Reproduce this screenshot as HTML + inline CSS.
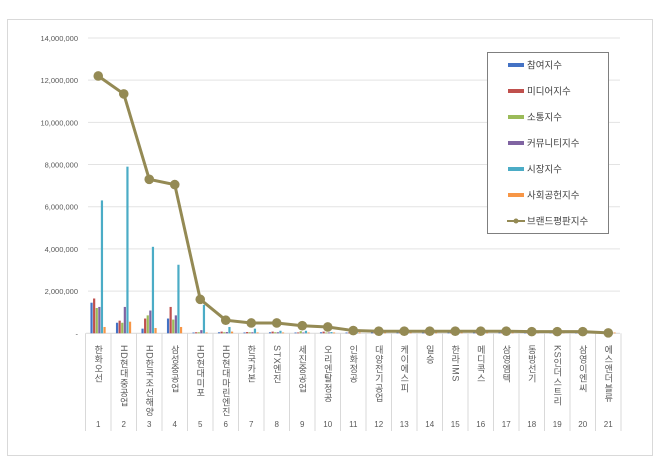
<!DOCTYPE html>
<html><head><meta charset="utf-8">
<style>
body{margin:0;background:#fff;}
svg text{font-family:"Liberation Sans","Noto Sans CJK KR",sans-serif;}
</style></head><body>
<svg id="s" width="660" height="463" xmlns="http://www.w3.org/2000/svg">
<rect x="7.5" y="19.5" width="645" height="436" fill="#fff" stroke="#d9d9d9"/>
<g id="g"></g>
</svg>
<script>
const g=document.getElementById('g');
let h='';
const y0=333.3, ppm=295.3/14;
const Y=v=>y0-v*ppm;
for(let i=0;i<=7;i++){const y=Y(i*2);
 if(i>0)h+=`<line x1="88" x2="620" y1="${y}" y2="${y}" stroke="#e3e3e3"/>`;
 const lab=i==0?'-':(i*2).toString()+',000,000';
 h+=`<text x="78" y="${y+3}" font-size="7.5" fill="#595959" text-anchor="end">${lab}</text>`;}
h+=`<line x1="86" x2="620" y1="${y0}" y2="${y0}" stroke="#d9d9d9"/>`;
const x0=85.5,w=25.5;
for(let i=0;i<=21;i++){const x=x0+w*i;h+=`<line x1="${x}" x2="${x}" y1="${y0}" y2="431" stroke="#d9d9d9"/>`;}
const cols=['#4472c4','#c0504d','#9bbb59','#8064a2','#4bacc6','#f79646'];
const bars=[[1.45,1.65,1.2,1.25,6.3,0.3],[0.5,0.6,0.5,1.25,7.9,0.55],[0.22,0.7,0.85,1.08,4.1,0.25],[0.7,1.25,0.65,0.85,3.25,0.3],[0.03,0.05,0.05,0.15,1.35,0.03],
[0.05,0.08,0.05,0.06,0.3,0.08],[0.04,0.06,0.05,0.05,0.22,0.04],[0.05,0.08,0.05,0.05,0.12,0.04],[0.03,0.04,0.1,0.04,0.12,0.03],[0.05,0.08,0.03,0.04,0.06,0.03]];
const names=['한화오선','HD현대중공업','HD한국조선해양','삼성중공업','HD현대미포','HD현대마린엔진','한국카본','STX엔진','세진중공업','오리엔탈정공','인화정공','대양전기공업','케이에스피','일승','한라IMS','메디콕스','삼영엠텍','동방선기','KS인더스트리','삼영이엔씨','에스앤더블류'];
for(let i=0;i<21;i++){const cx=x0+w*(i+0.5);
 const b=bars[i]||[0.03,0.04,0.03,0.03,0.04,0.02];
 for(let k=0;k<6;k++){const bx=cx-7.8+k*2.6;const hh=Math.max(b[k]*ppm,0.8);
  h+=`<rect x="${bx}" y="${y0-hh}" width="2.2" height="${hh}" fill="${cols[k]}"/>`;}
 h+=`<text x="${cx}" y="345" font-size="9" fill="#595959" style="writing-mode:vertical-rl;text-orientation:mixed;letter-spacing:0.6px">${names[i]}</text>`;
 h+=`<text x="${cx}" y="427" font-size="8" fill="#595959" text-anchor="middle">${i+1}</text>`;}
const line=[12.2,11.35,7.3,7.05,1.61,0.62,0.49,0.49,0.36,0.3,0.13,0.1,0.1,0.1,0.1,0.1,0.1,0.08,0.08,0.08,0.02];
let pts=line.map((v,i)=>`${x0+w*(i+0.5)},${Y(v)}`).join(' ');
h+=`<polyline points="${pts}" fill="none" stroke="#948a54" stroke-width="3"/>`;
line.forEach((v,i)=>h+=`<circle cx="${x0+w*(i+0.5)}" cy="${Y(v)}" r="4.8" fill="#948a54"/>`);
h+=`<rect x="487.5" y="52.5" width="121" height="181" fill="#fff" stroke="#7f7f7f"/>`;
const ln=['참여지수','미디어지수','소통지수','커뮤니티지수','시장지수','사회공헌지수','브랜드평판지수'];
ln.forEach((t,i)=>{const y=65+i*26;
 if(i<6)h+=`<rect x="508" y="${y-2}" width="16" height="4" fill="${cols[i]}"/>`;
 else{h+=`<line x1="507" x2="525" y1="${y}" y2="${y}" stroke="#948a54" stroke-width="2"/><circle cx="516" cy="${y}" r="2.5" fill="#948a54"/>`;}
 h+=`<text x="527" y="${y+3.5}" font-size="9.5" fill="#404040">${t}</text>`;});
g.innerHTML=h;
</script>
</body></html>
